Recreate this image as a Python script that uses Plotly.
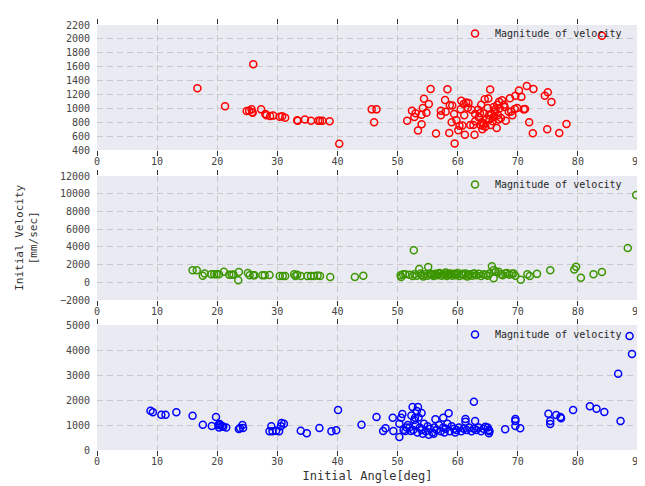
import plotly.graph_objects as go

# ---------------- data ----------------
red_angle = [16.7, 21.3, 26.0, 24.9, 25.3, 25.7, 25.8, 25.9, 27.3, 28.0, 28.2, 28.8, 29.3, 30.4, 30.8,
             31.3, 33.3, 33.4, 34.6, 35.6, 36.8, 37.1, 37.5, 38.7, 40.3, 45.7, 46.5, 46.1, 51.6, 52.4,
             52.8, 53.0, 53.4, 54.0, 54.0, 54.4, 54.2, 54.8, 55.2, 55.5, 56.4, 57.2, 57.2, 57.9, 58.3,
             58.0, 58.6, 58.7, 59.1, 59.0, 59.5, 59.4, 59.8, 60.1, 60.3, 60.5, 60.6, 61.0, 61.1, 60.8,
             61.2, 61.4, 61.7, 61.8, 62.1, 62.3, 62.6, 62.9, 62.8, 62.9, 63.4, 63.7, 63.9, 64.2, 64.4,
             64.5, 64.6, 65.0, 65.1, 65.3, 65.4, 65.6, 65.8, 66.0, 66.1, 66.5, 66.3, 66.6, 66.8, 66.9,
             67.4, 67.7, 67.8, 68.0, 68.7, 68.9, 69.1, 69.6, 69.9, 70.2, 70.6, 71.0, 71.2, 71.5, 71.9,
             72.5, 72.6, 74.5, 74.9, 75.0, 75.6, 76.9, 78.1, 84.0, 63.5, 64.0, 64.3, 64.8, 65.2, 65.5,
             66.2, 65.9, 64.1, 63.8, 66.7, 67.2, 67.0, 68.5, 69.5]
red_vel = [1290, 1030, 1635, 960, 965, 985, 945, 935, 985, 920, 900, 890, 895, 880, 885,
           865, 830, 820, 840, 820, 820, 820, 820, 815, 490, 985, 985, 800, 820, 965,
           874, 930, 682, 770, 908, 1139, 1005, 935, 1062, 1278, 639, 965, 900, 1119, 1275,
           950, 644, 1043, 1040, 798, 495, 920, 827, 683, 750, 985, 1110, 1062, 900, 752,
           620, 1085, 1010, 1076, 760, 980, 760, 920, 620, 815, 980, 930, 1050, 750, 930,
           1130, 735, 1005, 1140, 840, 1270, 920, 815, 1020, 880, 716, 985, 1050, 840, 1095,
           1118, 1050, 1020, 822, 1145, 955, 900, 1180, 1005, 1255, 1165, 985, 990, 1321, 800,
           640, 1280, 1180, 700, 1230, 1090, 645, 775, 2046, 870, 800, 780, 850, 900, 760,
           950, 870, 700, 760, 900, 860, 1000, 950, 990]

green_angle = [15.9, 16.6, 17.6, 17.9, 19.0, 19.5, 19.9, 20.3, 21.1, 22.0, 22.4, 22.7, 23.6, 23.5, 25.1,
               25.4, 26.0, 26.2, 27.5, 27.9, 28.7, 30.4, 30.9, 31.3, 32.8, 33.0, 33.3, 33.9, 35.0, 35.6,
               36.1, 36.7, 37.1, 38.8, 42.9, 44.3, 50.5, 50.6, 50.9, 51.3, 52.0, 52.5, 52.8, 53.2, 53.6,
               53.8, 54.0, 54.3, 54.6, 55.0, 55.1, 55.4, 55.7, 56.0, 56.3, 56.6, 57.0, 57.3, 57.6, 58.0,
               58.2, 58.5, 58.8, 59.1, 59.4, 59.7, 60.0, 60.3, 60.6, 61.0, 61.3, 61.6, 62.0, 62.4, 62.8,
               63.1, 63.5, 63.9, 64.3, 64.7, 65.0, 65.3, 65.7, 66.0, 66.3, 66.0, 66.8, 67.2, 67.5, 67.9,
               68.2, 68.6, 69.0, 69.3, 69.6, 70.5, 71.6, 72.0, 73.2, 75.4, 79.4, 79.7, 80.5, 82.6, 84.0,
               88.3, 89.7, 52.7, 55.5, 56.8, 57.8, 59.0, 60.8, 61.8, 62.6, 58.4, 59.9, 56.1]
green_vel = [1360, 1360, 750, 1000, 900, 900, 900, 900, 1200, 850, 850, 880, 1150, 230, 1050,
             800, 800, 800, 800, 800, 820, 720, 720, 720, 900, 720, 850, 720, 720, 720,
             720, 780, 720, 600, 600, 750, 800, 600, 900, 900, 850, 700, 900, 750, 1500,
             1000, 800, 650, 900, 750, 1730, 1000, 850, 700, 950, 800, 1050, 750, 900, 1100,
             700, 850, 1000, 750, 950, 800, 1050, 700, 900, 800, 1000, 650, 900, 750, 1000,
             800, 950, 700, 900, 850, 750, 1000, 1810, 1400, 1200, 450, 1200, 900, 800, 1000,
             1050, 850, 950, 1000, 750, 300, 900, 700, 950, 1350, 1450, 1750, 500, 900, 1150,
             3874, 9856, 3614, 900, 1000, 850, 900, 950, 850, 950, 950, 880, 880]

blue_angle = [8.9, 9.3, 10.7, 11.4, 13.2, 15.9, 17.6, 19.1, 19.8, 20.2, 20.3, 20.5, 20.8, 21.0, 21.5,
              20.4, 23.6, 23.8, 24.2, 24.3, 28.7, 29.0, 29.2, 29.8, 30.3, 30.6, 30.7, 31.1, 33.9, 34.9,
              37.0, 39.0, 39.8, 40.1, 44.0, 46.5, 47.6, 48.0, 49.2, 49.3, 50.3, 50.3, 50.6, 50.8, 51.3,
              51.7, 52.2, 52.3, 52.5, 53.4, 52.9, 53.2, 54.0, 55.2, 56.3, 57.6, 58.5, 61.3, 61.3, 62.7,
              62.9, 64.6, 65.2, 65.2, 67.9, 69.6, 69.6, 69.6, 70.4, 75.1, 75.4, 75.4, 76.4, 77.1, 77.2,
              79.2, 82.0, 83.1, 84.4, 86.7, 87.1, 88.6, 89.0, 52.0, 52.6, 53.0, 53.3, 53.7, 54.0,
              54.4, 54.7, 55.0, 55.4, 55.8, 56.1, 56.5, 56.9, 57.2, 57.6, 58.0, 58.3, 58.7, 59.0,
              59.4, 59.8, 60.2, 60.6, 61.0, 61.5, 61.9, 62.3, 62.7, 63.1, 63.5, 63.9, 64.3, 65.0,
              65.3, 54.2, 56.0, 57.8, 59.6, 53.5, 52.8, 51.0, 51.5]
blue_vel = [1572, 1507, 1413, 1413, 1507, 1373, 1013, 960, 1320, 1000, 900, 1000, 960, 930, 900,
            1040, 840, 880, 1000, 880, 747, 950, 747, 770, 747, 950, 1080, 1050, 770, 667,
            880, 747, 787, 1600, 1013, 1320, 760, 867, 1290, 760, 1050, 520, 1290, 1440, 760,
            1000, 760, 1380, 1720, 1720, 1290, 1560, 1480, 613, 1227, 1293, 1467, 1240, 1133, 1933,
            1160, 933, 800, 667, 827, 1240, 1160, 960, 867, 1453, 1160, 1040, 1400, 1320, 1270,
            1600, 1747, 1653, 1520, 3053, 1160, 4560, 3840, 900, 800, 1000, 700, 900, 800,
            1050, 750, 950, 850, 700, 900, 800, 1000, 750, 900, 850, 1050, 750, 950,
            850, 800, 900, 750, 850, 800, 900, 750, 850, 800, 900, 750, 850, 900,
            750, 650, 650, 700, 700, 1300, 1200, 800, 900]

x_ticks = [0, 10, 20, 30, 40, 50, 60, 70, 80, 90]
top_ticks = [400, 600, 800, 1000, 1200, 1400, 1600, 1800, 2000, 2200]
mid_ticks = [-2000, 0, 2000, 4000, 6000, 8000, 10000, 12000]
bot_ticks = [0, 1000, 2000, 3000, 4000, 5000]

legend_label = "Magnitude of velocity"
x_title = "Initial Angle[deg]"
y_title = "Initial Velocity<br>[mm/sec]"

# ---------------- styles ----------------
MONO = "DejaVu Sans Mono"
BG = "#eaeaf2"
GRID = "#c8c8cc"
TICKFONT = dict(family=MONO, size=10, color="#444444")

fig = go.Figure()


def add(xs, ys, color, xa, ya, leg):
    fig.add_trace(go.Scatter(
        x=xs, y=ys, mode="markers", name=legend_label,
        marker=dict(symbol="circle-open", size=7, color=color, line=dict(width=1.5, color=color)),
        xaxis=xa, yaxis=ya, legend=leg, showlegend=True))


add(red_angle, red_vel, "#ff0000", "x", "y", "legend")
add(green_angle, green_vel, "#3c9600", "x2", "y2", "legend2")
add(blue_angle, blue_vel, "#0000ff", "x3", "y3", "legend3")

xcommon = dict(range=[0, 90], tickvals=x_ticks, ticks="outside", ticklen=5, tickcolor="#333333",
               tickwidth=1, mirror="ticks", showline=False, showgrid=True, gridcolor=GRID,
               griddash="6px,4px", gridwidth=1, zeroline=False, tickfont=TICKFONT,
               ticklabelstandoff=-3)
ycommon = dict(ticks="", showgrid=True, gridcolor=GRID, griddash="6px,4px", gridwidth=1,
               zeroline=False, showline=False, tickfont=TICKFONT, ticklabelstandoff=6,
               tickformat="d")

dom_top = [(442 - 142) / 425, 1.0]
dom_mid = [(442 - 292) / 425, (442 - 168) / 425]
dom_bot = [0.0, 125 / 425]

legstyle = dict(xanchor="left", yanchor="top", bgcolor="rgba(0,0,0,0)", borderwidth=0,
                font=dict(family=MONO, size=10, color="#262626"))

fig.update_layout(
    width=645, height=486,
    margin=dict(l=89, r=9, t=17, b=44),
    paper_bgcolor="white", plot_bgcolor=BG,
    xaxis=dict(**xcommon, anchor="y"),
    xaxis2=dict(**xcommon, anchor="y2"),
    xaxis3=dict(**xcommon, anchor="y3",
                title=dict(text=x_title, font=dict(family=MONO, size=12, color="#333333"), standoff=5)),
    yaxis=dict(**ycommon, domain=dom_top, range=[400, 2200], tickvals=top_ticks, anchor="x"),
    yaxis2=dict(**ycommon, domain=dom_mid, range=[-2000, 12000], tickvals=mid_ticks, anchor="x2"),
    yaxis3=dict(**ycommon, domain=dom_bot, range=[0, 5000], tickvals=bot_ticks, anchor="x3"),
    legend=dict(**legstyle, x=(451 - 89) / 547, y=(442 - 11) / 425),
    legend2=dict(**legstyle, x=(451 - 89) / 547, y=(442 - 162) / 425),
    legend3=dict(**legstyle, x=(451 - 89) / 547, y=(442 - 312) / 425),
    annotations=[dict(text=y_title, xref="paper", yref="paper", x=(17 - 89) / 547,
                      y=(442 - 230) / 425, xanchor="center", yanchor="middle", textangle=-90,
                      showarrow=False, font=dict(family=MONO, size=11, color="#333333"))],
)

fig.write_html("out.html")
